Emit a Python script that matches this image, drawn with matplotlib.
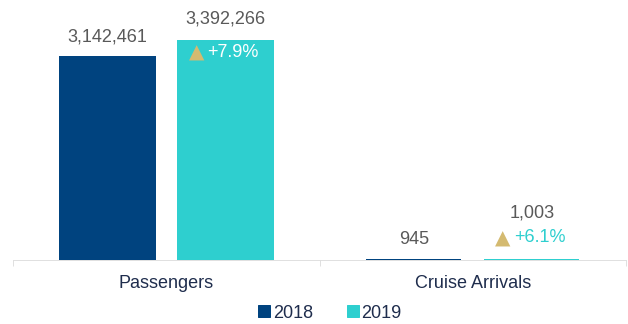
import matplotlib
matplotlib.use("Agg")
import matplotlib.pyplot as plt
from matplotlib.patches import Patch
import numpy as np

plt.rcParams['font.family'] = ['Liberation Sans', 'DejaVu Sans']

# dati
categorie = ['Passengers', 'Cruise Arrivals']
anni = ['2018', '2019']
valori_2018 = [3142461, 945]
valori_2019 = [3392266, 1003]
variazioni = ['+7.9%', '+6.1%']

blu = '#00437F'
turchese = '#2ECFCF'
oro = '#D4BA70'
grigio = '#595959'
navy = '#1F2D4D'

DPI = 72
fig = plt.figure(figsize=(628 / DPI, 324 / DPI), dpi=DPI)
ax = fig.add_axes([13 / 628, 64 / 324, 613 / 628, 258.2 / 324])

x = np.arange(len(categorie))
larghezza = 0.31
scost = 0.1925

b1 = ax.bar(x - scost, valori_2018, larghezza, color=blu, edgecolor=blu, linewidth=2, zorder=3)
b2 = ax.bar(x + scost, valori_2019, larghezza, color=turchese, edgecolor=turchese, linewidth=2, zorder=3)

ax.set_xlim(-0.5, 1.5)
ax.set_ylim(0, 4.0e6)

# etichette valori
for i, r in enumerate(b1):
    ax.annotate(f'{valori_2018[i]:,}', (r.get_x() + r.get_width() / 2, r.get_height()),
                xytext=(0, 20), textcoords='offset points', ha='center', va='center',
                fontsize=18, color=grigio, annotation_clip=False)

for i, r in enumerate(b2):
    cx = r.get_x() + r.get_width() / 2
    top = r.get_height()
    dentro = top > 1e6  # la percentuale sta dentro la barra se e' alta
    if dentro:
        dy_val, dy_pct, col_pct = 22, -11, 'white'
    else:
        dy_val, dy_pct, col_pct = 47, 22, turchese
    ax.annotate(f'{valori_2019[i]:,}', (cx, top), xytext=(0, dy_val),
                textcoords='offset points', ha='center', va='center',
                fontsize=18, color=grigio, annotation_clip=False)
    ax.annotate('\u25B2', (cx, top), xytext=(-29, dy_pct - 1), textcoords='offset points',
                ha='center', va='center', fontsize=20, color=oro,
                family='DejaVu Sans', annotation_clip=False)
    ax.annotate(variazioni[i], (cx, top), xytext=(-18, dy_pct), textcoords='offset points',
                ha='left', va='center', fontsize=18, color=col_pct, annotation_clip=False)

# assi
for s in ['top', 'right', 'left']:
    ax.spines[s].set_visible(False)
ax.spines['bottom'].set_color('#D9D9D9')
ax.spines['bottom'].set_zorder(1)
ax.set_yticks([])
ax.set_xticks([-0.5, 0.5, 1.5])
ax.set_xticklabels([])
ax.tick_params(axis='x', which='major', length=6, color='#D9D9D9', direction='out')
ax.set_xticks(x, minor=True)
ax.set_xticklabels(categorie, minor=True, fontsize=18, color=navy)
ax.tick_params(axis='x', which='minor', length=0, pad=15)

handles = [Patch(color=blu, label=anni[0]), Patch(color=turchese, label=anni[1])]
leg = fig.legend(handles=handles, loc='center', bbox_to_anchor=(330 / 628, 11 / 324),
                 ncol=2, frameon=False, fontsize=18, handlelength=0.65, handleheight=0.65,
                 handletextpad=0.15, columnspacing=1.9, borderpad=0)
for t in leg.get_texts():
    t.set_color(navy)

fig.savefig('out.png', dpi=DPI)
